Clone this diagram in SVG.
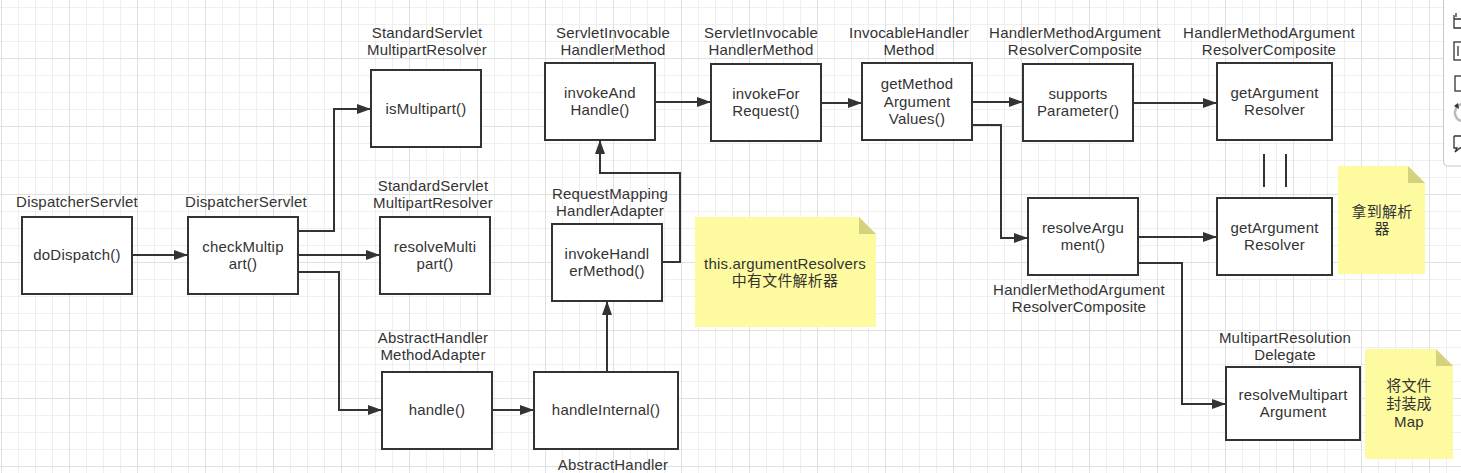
<svg xmlns="http://www.w3.org/2000/svg" width="1461" height="473" viewBox="0 0 1461 473">
<style>
text{font-family:"Liberation Sans","Noto Sans CJK SC",sans-serif;font-size:15px;letter-spacing:0.2px;fill:#333;text-anchor:middle}
.box{fill:#fff;stroke:#333;stroke-width:2}
.conn{fill:none;stroke:#333;stroke-width:2}
.note{fill:#fdfa9f}
.fold{fill:#d4d17f}
.ico{fill:none;stroke:#333;stroke-width:1.3}
</style>
<defs>
<pattern id="minor" x="1" y="7" width="17" height="17" patternUnits="userSpaceOnUse">
<rect x="0" y="0" width="1" height="17" fill="#efefef"/>
<rect x="0" y="0" width="17" height="1" fill="#efefef"/>
</pattern>
<pattern id="major" x="1" y="58" width="68" height="68" patternUnits="userSpaceOnUse">
<rect x="0" y="0" width="1" height="68" fill="#e0e0e0"/>
<rect x="0" y="0" width="68" height="1" fill="#e0e0e0"/>
</pattern>
<marker id="arr" markerUnits="userSpaceOnUse" markerWidth="15" markerHeight="11" refX="14" refY="5" orient="auto">
<path d="M0,0 L14,5 L0,10 Z" fill="#333"/>
</marker>
</defs>
<rect width="1461" height="473" fill="#fff"/>
<rect width="1461" height="473" fill="url(#minor)"/>
<rect width="1461" height="473" fill="url(#major)"/>

<g id="connectors">
<path class="conn" d="M132,255 H188" marker-end="url(#arr)"/>
<path class="conn" d="M298,231 H334 V109 H371" marker-end="url(#arr)"/>
<path class="conn" d="M298,255 H380" marker-end="url(#arr)"/>
<path class="conn" d="M298,272 H339 V410 H382" marker-end="url(#arr)"/>
<path class="conn" d="M492,410 H534" marker-end="url(#arr)"/>
<path class="conn" d="M607,372 V301" marker-end="url(#arr)"/>
<path class="conn" d="M662,262 H680 V173 H600 V140" marker-end="url(#arr)"/>
<path class="conn" d="M655,102 H711" marker-end="url(#arr)"/>
<path class="conn" d="M821,103 H862" marker-end="url(#arr)"/>
<path class="conn" d="M972,102 H1023" marker-end="url(#arr)"/>
<path class="conn" d="M1133,103 H1217" marker-end="url(#arr)"/>
<path class="conn" d="M972,125 H1001 V238 H1028" marker-end="url(#arr)"/>
<path class="conn" d="M1138,237 H1217" marker-end="url(#arr)"/>
<path class="conn" d="M1138,263 H1182 V404 H1226" marker-end="url(#arr)"/>
<path class="conn" d="M1264,154 V187 M1286,154 V187"/>
</g>

<g id="doDispatch">
<text x="77" y="207">DispatcherServlet</text>
<rect class="box" x="22" y="217" width="110" height="77"/>
<text x="77" y="260">doDispatch()</text>
</g>
<g id="checkMultipart">
<text x="246" y="207">DispatcherServlet</text>
<rect class="box" x="188" y="217" width="110" height="77"/>
<text x="243" y="252">checkMultip<tspan x="243" dy="17">art()</tspan></text>
</g>
<g id="isMultipart">
<text x="427" y="38">StandardServlet<tspan x="427" dy="17">MultipartResolver</tspan></text>
<rect class="box" x="371" y="70" width="110" height="77"/>
<text x="426" y="114">isMultipart()</text>
</g>
<g id="resolveMultipart">
<text x="433" y="191">StandardServlet<tspan x="433" dy="17">MultipartResolver</tspan></text>
<rect class="box" x="380" y="217" width="110" height="77"/>
<text x="435" y="252">resolveMulti<tspan x="435" dy="17">part()</tspan></text>
</g>
<g id="handle">
<text x="433" y="343">AbstractHandler<tspan x="433" dy="17">MethodAdapter</tspan></text>
<rect class="box" x="382" y="372" width="110" height="77"/>
<text x="437" y="415">handle()</text>
</g>
<g id="handleInternal">
<rect class="box" x="534" y="372" width="144" height="77"/>
<text x="606" y="415">handleInternal()</text>
<text x="613" y="469.5">AbstractHandler</text>
</g>
<g id="invokeHandlerMethod">
<text x="610" y="199">RequestMapping<tspan x="610" dy="17">HandlerAdapter</tspan></text>
<rect class="box" x="552" y="224" width="110" height="77"/>
<text x="607" y="259">invokeHandl<tspan x="607" dy="17">erMethod()</tspan></text>
</g>
<g id="invokeAndHandle">
<text x="613" y="38">ServletInvocable<tspan x="613" dy="17">HandlerMethod</tspan></text>
<rect class="box" x="545" y="63" width="110" height="77"/>
<text x="600" y="98">invokeAnd<tspan x="600" dy="17">Handle()</tspan></text>
</g>
<g id="invokeForRequest">
<text x="761" y="38">ServletInvocable<tspan x="761" dy="17">HandlerMethod</tspan></text>
<rect class="box" x="711" y="64" width="110" height="77"/>
<text x="766" y="99">invokeFor<tspan x="766" dy="17">Request()</tspan></text>
</g>
<g id="getMethodArgumentValues">
<text x="909" y="38">InvocableHandler<tspan x="909" dy="17">Method</tspan></text>
<rect class="box" x="862" y="63" width="110" height="77"/>
<text x="917" y="89">getMethod<tspan x="917" dy="17.5">Argument</tspan><tspan x="917" dy="17.5">Values()</tspan></text>
</g>
<g id="supportsParameter">
<text x="1075" y="38">HandlerMethodArgument<tspan x="1075" dy="17">ResolverComposite</tspan></text>
<rect class="box" x="1023" y="64" width="110" height="77"/>
<text x="1078" y="99">supports<tspan x="1078" dy="17">Parameter()</tspan></text>
</g>
<g id="getArgumentResolver1">
<text x="1269" y="38">HandlerMethodArgument<tspan x="1269" dy="17">ResolverComposite</tspan></text>
<rect class="box" x="1217" y="63" width="115" height="77"/>
<text x="1274.5" y="98">getArgument<tspan x="1274.5" dy="17">Resolver</tspan></text>
</g>
<g id="resolveArgument">
<rect class="box" x="1028" y="198" width="110" height="77"/>
<text x="1083" y="233">resolveArgu<tspan x="1083" dy="17">ment()</tspan></text>
<text x="1079" y="295">HandlerMethodArgument<tspan x="1079" dy="17">ResolverComposite</tspan></text>
</g>
<g id="getArgumentResolver2">
<rect class="box" x="1217" y="198" width="115" height="77"/>
<text x="1274.5" y="233">getArgument<tspan x="1274.5" dy="17">Resolver</tspan></text>
</g>
<g id="resolveMultipartArgument">
<text x="1285" y="343">MultipartResolution<tspan x="1285" dy="17">Delegate</tspan></text>
<rect class="box" x="1226" y="367" width="134" height="73"/>
<text x="1293" y="400">resolveMultipart<tspan x="1293" dy="17">Argument</tspan></text>
</g>

<g id="note1">
<path class="note" d="M695,217 H859 L876,234 V327 H695 Z"/>
<path class="fold" d="M859,217 L876,234 H859 Z"/>
<text x="785" y="269">this.argumentResolvers<tspan x="785" dy="17">中有文件解析器</tspan></text>
</g>
<g id="note2">
<path class="note" d="M1338,166 H1408 L1425,183 V274 H1338 Z"/>
<path class="fold" d="M1408,166 L1425,183 H1408 Z"/>
<text x="1382" y="217">拿到解析<tspan x="1382" dy="17">器</tspan></text>
</g>
<g id="note3">
<path class="note" d="M1365,349 H1436 L1453,366 V459 H1365 Z"/>
<path class="fold" d="M1436,349 L1453,366 H1436 Z"/>
<text x="1409" y="391">将文件<tspan x="1409" dy="18">封装成</tspan><tspan x="1409" dy="18">Map</tspan></text>
</g>

<g id="toolbar">
<rect x="1443.5" y="-6" width="30" height="172" rx="4" fill="#fff" stroke="#c8c8c8"/>
<path class="ico" d="M1454,15 V28 H1462 M1454,19 H1462 M1456,13 V17"/>
<rect class="ico" x="1454" y="42" width="10" height="18"/>
<path class="ico" d="M1458,46 V56"/>
<rect class="ico" x="1455" y="76" width="10" height="15"/>
<path d="M1455,112 A8,8 0 0 1 1463,104 M1455,112 A8,8 0 0 0 1463,121" fill="none" stroke="#bbb" stroke-width="2.5"/>
<path d="M1454,106 L1458,103 L1459,109 Z" fill="#333"/>
<path class="ico" d="M1454,136 H1462 M1454,136 V148 H1457 L1455,152 L1460,148 H1462"/>
</g>
</svg>
